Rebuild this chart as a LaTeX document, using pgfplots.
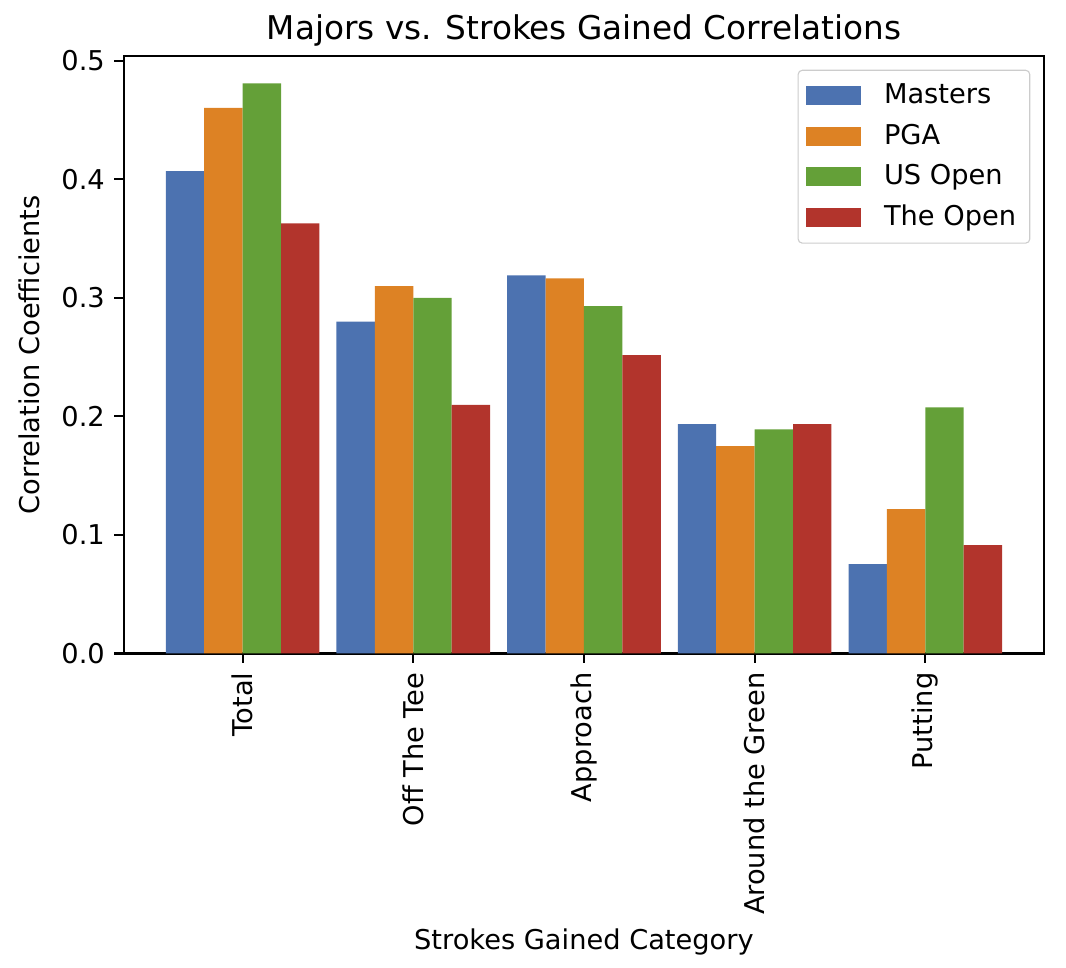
\documentclass[border=0pt]{standalone}
\usepackage{fontspec}
\setmainfont{DejaVu Sans}
\usepackage{pgfplots}
\pgfplotsset{compat=1.18}

\definecolor{cMasters}{RGB}{76,114,176}
\definecolor{cPGA}{RGB}{221,130,36}
\definecolor{cUS}{RGB}{100,160,56}
\definecolor{cOpen}{RGB}{178,52,44}

\begin{document}
\begin{tikzpicture}
% whole picture: 1066 x 967 px at 0.367pt per px
\path[use as bounding box] (-45.5pt,-115.1pt) rectangle (345.7pt,239.8pt);
\begin{axis}[
    at={(0pt,0pt)}, anchor=south west,
    scale only axis,
    width=337.6pt, height=219.2pt,
    xmin=-0.695, xmax=4.695,
    ymin=0, ymax=0.504,
    xtick={0,1,2,3,4},
    xticklabels={Total,Off The Tee,Approach,Around the Green,Putting},
    xticklabel style={rotate=90, anchor=east},
    ytick={0,0.1,0.2,0.3,0.4,0.5},
    yticklabel style={/pgf/number format/.cd, fixed, fixed zerofill, precision=1},
    /pgf/number format/assume math mode=true,
    tick align=outside,
    xtick pos=bottom, ytick pos=left,
    major tick length=3.5pt,
    every tick/.style={black, line width=0.8pt},
    axis line style={line width=0.8pt},
    tick label style={font=\fontsize{10}{12}\selectfont},
    title={Majors vs. Strokes Gained Correlations},
    % default title style already shifts 6pt up, cancel it
    title style={at={(axis description cs:0.5,1.0274)}, anchor=base, yshift=-6pt, font=\fontsize{12}{14.4}\selectfont, inner sep=0pt},
    xlabel={Strokes Gained Category},
    xlabel style={at={(axis description cs:0.5,-0.4955)}, anchor=base, font=\fontsize{10}{12}\selectfont, inner sep=0pt},
    ylabel={Correlation Coefficients},
    ylabel style={at={(axis description cs:-0.0913,0.5)}, anchor=base, rotate=0, font=\fontsize{10}{12}\selectfont, inner sep=0pt},
    ybar, bar width=0.225,
    legend cell align=left,
    legend image code/.code={\fill[#1, sharp corners] (0pt,-3.5pt) rectangle (20pt,3.5pt);},
    legend style={at={(axis description cs:1,1)}, anchor=north east, xshift=-5pt, yshift=-5pt,
        draw=black!20, rounded corners=1.5pt, inner xsep=3pt, inner ysep=3pt,
        font=\fontsize{10}{12}\selectfont, row sep=1.9pt,
        /tikz/every odd column/.append style={column sep=6.5pt}},
]
\addplot[fill=cMasters, draw=none, bar shift=-0.3375] coordinates {
    (0,0.407) (1,0.280) (2,0.319) (3,0.1935) (4,0.0754)
};
\addplot[fill=cPGA, draw=none, bar shift=-0.1125] coordinates {
    (0,0.4604) (1,0.310) (2,0.3165) (3,0.175) (4,0.1218)
};
\addplot[fill=cUS, draw=none, bar shift=0.1125] coordinates {
    (0,0.481) (1,0.300) (2,0.293) (3,0.189) (4,0.2076)
};
\addplot[fill=cOpen, draw=none, bar shift=0.3375] coordinates {
    (0,0.3629) (1,0.2098) (2,0.2517) (3,0.1935) (4,0.0914)
};
\legend{Masters,PGA,US Open,The Open}
\end{axis}
\end{tikzpicture}
\end{document}
